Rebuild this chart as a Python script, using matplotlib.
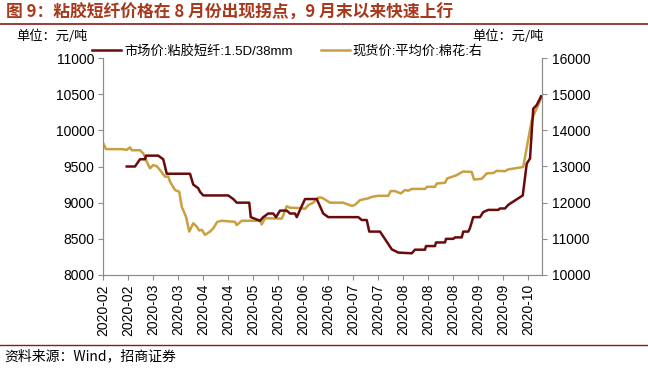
import matplotlib
matplotlib.use("Agg")
import matplotlib.pyplot as plt

plt.rcParams['font.family'] = ['Liberation Sans', 'Noto Sans CJK SC', 'DejaVu Sans']

# Trading-day index and values
viscose_x = [9.5, 12.8, 14.8, 16.8, 17.2, 22.1, 24.1, 25.5, 34.8, 36.1, 38.1, 38.8, 40.1, 50.1, 52.1, 53.5,
             58.5, 59.1, 62.8, 64.1, 66.1, 68.1, 69.2, 70.8, 73.5, 74.8, 76.8, 77.5, 80.8, 85.5, 88.1, 90.1,
             102.1, 103.5, 105.5, 106.5, 110.8, 113.5, 115.5, 118.1, 123.5, 124.8, 128.8, 129.2, 132.8, 133.2,
             136.8, 137.2, 140.1, 140.8, 143.5, 144.1, 146.1, 146.8, 148.1, 150.8, 152.1, 154.1, 158.1, 158.8,
             160.8, 162.1, 167.9, 169.5, 170.8, 172.1, 173.5, 174.8, 175.2]
viscose_v = [9500, 9500, 9600, 9600, 9650, 9650, 9600, 9400, 9400, 9250, 9200, 9150, 9100, 9100, 9050, 9000,
             9000, 8800, 8750, 8800, 8850, 8850, 8800, 8890, 8890, 8850, 8850, 8800, 9050, 9050, 8850, 8800,
             8800, 8760, 8760, 8600, 8600, 8460, 8355, 8310, 8300, 8350, 8350, 8400, 8400, 8450,
             8450, 8500, 8500, 8520, 8520, 8600, 8600, 8650, 8800, 8800, 8870, 8900, 8900, 8920,
             8920, 8970, 9100, 9540, 9610, 10300, 10350, 10440, 10470]

cotton_x = [0.1, 1.2, 7.5, 9.5, 10.8, 11.5, 14.8, 16.1, 16.8, 17.5, 18.8, 20.1, 21.5, 22.8, 24.8, 26.1, 26.8,
            28.8, 30.5, 31.5, 33.2, 34.5, 36.1, 37.5, 38.5, 39.5, 40.8, 42.8, 44.1, 45.7, 47.5, 52.8, 53.5,
            55.5, 62.8, 63.5, 64.8, 71.5, 72.1, 73.5, 74.8, 78.8, 80.8, 82.1, 84.1, 86.1, 87.5, 90.8, 96.1,
            99.5, 100.8, 102.8, 106.1, 107.5, 110.1, 114.1, 115.1, 116.8, 119.1, 120.8, 122.1, 123.5, 128.8,
            129.7, 132.8, 133.5, 136.8, 137.7, 141.5, 143.9, 147.5, 148.4, 151.5, 153.5, 156.1, 157.5, 160.8,
            162.1, 167.5, 168.1, 171.5, 172.8, 174.1, 175.5]
cotton_v = [13640, 13480, 13480, 13460, 13530, 13450, 13450, 13360, 13270, 13130, 12950, 13040, 13010, 12900,
            12720, 12720, 12580, 12350, 12300, 11890, 11610, 11200, 11430, 11340, 11230, 11250, 11110, 11200,
            11290, 11470, 11500, 11470, 11380, 11500, 11500, 11400, 11570, 11560, 11650, 11900, 11860, 11850,
            11830, 11930, 12000, 12140, 12140, 12000, 12000, 11910, 11940, 12070, 12120, 12160, 12190, 12190,
            12320, 12320, 12255, 12350, 12330, 12380, 12380, 12440, 12440, 12530, 12550, 12670, 12760, 12860,
            12850, 12640, 12660, 12810, 12820, 12880, 12870, 12920, 12980, 12990, 14280, 14510, 14700, 14925]

tick_pos = list(range(0, 171, 10))
tick_labels = ['2020-02', '2020-02', '2020-03', '2020-03', '2020-04', '2020-04', '2020-05', '2020-05',
               '2020-06', '2020-06', '2020-07', '2020-07', '2020-08', '2020-08', '2020-08', '2020-09',
               '2020-09', '2020-10']

c_red = '#6B0A0A'
c_gold = '#C8A040'
c_title = '#A8381C'
spine_c = '#8C8C8C'

fig = plt.figure(figsize=(6.48, 3.68), dpi=100)
ax = fig.add_axes([103/648, 1-275/368, 439/648, 217/368])
ax2 = ax.twinx()

ax.plot(viscose_x, viscose_v, color=c_red, lw=1.8, zorder=3)
ax2.plot(cotton_x, cotton_v, color=c_gold, lw=1.8)
ax.set_zorder(ax2.get_zorder() + 1)
ax.patch.set_visible(False)

ax.set_xlim(0, 175.6)
ax.set_ylim(8000, 11000)
ax2.set_ylim(10000, 16000)
ax.set_yticks(range(8000, 11001, 500))
ax2.set_yticks(range(10000, 16001, 1000))
ax.set_xticks(tick_pos)
ax.set_xticklabels(tick_labels, rotation=90)

for a in (ax, ax2):
    a.spines['top'].set_visible(False)
    for s in ('left', 'right', 'bottom'):
        a.spines[s].set_color(spine_c)
    a.tick_params(axis='both', colors=spine_c, labelcolor='black', labelsize=10, length=3.5, pad=2.5)
ax.tick_params(axis='x', labelsize=10, pad=3)
ax2.tick_params(axis='y', pad=3.5)

# Legend
lh1, = ax.plot([], [], color=c_red, lw=1.8, label='市场价:粘胶短纤:1.5D/38mm')
lh2, = ax.plot([], [], color=c_gold, lw=1.8, label='现货价:平均价:棉花:右')
leg = fig.legend(handles=[lh1, lh2], loc='center left', bbox_to_anchor=(92/648, 1-51/368), ncol=2,
                 frameon=False, handlelength=2.2, handletextpad=0.25, columnspacing=2.1,
                 borderpad=0, borderaxespad=0,
                 prop={'family': ['Liberation Sans', 'Noto Sans CJK SC'], 'size': 9.5})

fig.text(6/648, 1-13/368, '图 9：粘胶短纤价格在 8 月份出现拐点，9 月末以来快速上行', color=c_title,
         fontsize=12.1, fontweight='bold', va='center', ha='left', family=['Noto Sans CJK SC', 'DejaVu Sans'])
fig.add_artist(plt.Line2D([0, 1], [1-24/368, 1-24/368], color='#8B1A1A', lw=1.2, transform=fig.transFigure))
fig.add_artist(plt.Line2D([0, 1], [1-345/368, 1-345/368], color='#8B1A1A', lw=1.0, transform=fig.transFigure))
fig.text(16/648, 1-36/368, '单位：元/吨', fontsize=9.5, va='center', ha='left', family=['Noto Sans CJK SC'])
fig.text(472/648, 1-36/368, '单位：元/吨', fontsize=9.5, va='center', ha='left', family=['Noto Sans CJK SC'])
fig.text(4/648, 1-356/368, '资料来源：Wind，招商证券', fontsize=10, va='center', ha='left',
         family=['Noto Sans CJK SC', 'DejaVu Sans'])

fig.savefig('out.png', dpi=100)
